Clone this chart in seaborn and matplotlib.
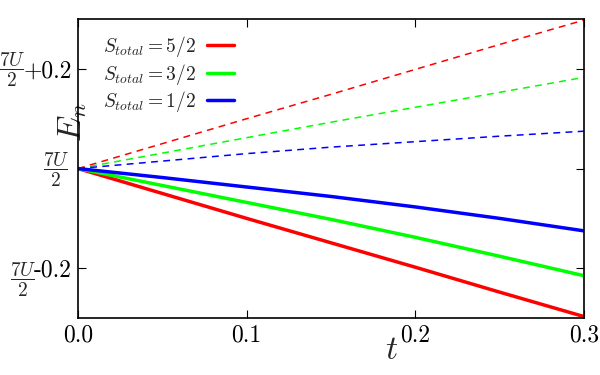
import pandas as pd
import matplotlib
matplotlib.use("Agg")
import matplotlib.pyplot as plt
import seaborn as sns

# hopping t and energy offset from 7U/2
t_vals = [0.0, 0.05, 0.10, 0.15, 0.20, 0.25, 0.30]
red_solid = [0.0, -0.050, -0.100, -0.149, -0.198, -0.248, -0.297]
green_solid = [0.0, -0.034, -0.068, -0.102, -0.138, -0.176, -0.215]
blue_solid = [0.0, -0.018, -0.037, -0.056, -0.077, -0.100, -0.125]
red_dashed = [0.0, 0.050, 0.100, 0.149, 0.199, 0.249, 0.298]
green_dashed = [0.0, 0.031, 0.062, 0.093, 0.123, 0.153, 0.183]
blue_dashed = [0.0, 0.015, 0.030, 0.043, 0.054, 0.065, 0.075]

labels = [r"$S_{total}=5/2$", r"$S_{total}=3/2$", r"$S_{total}=1/2$"]
colors = ["#ff0000", "#00ff00", "#0000ff"]
ytick_vals = [-0.2, 0.0, 0.2]
ytick_labels = ["-0.2", "", "+0.2"]
frac_label = r"$\dfrac{7U}{2}$"
xtick_vals = [0.0, 0.1, 0.2, 0.3]

# long tables for seaborn
solid = pd.DataFrame({
    "t": t_vals * 3,
    "E": red_solid + green_solid + blue_solid,
    "S": [labels[0]] * 7 + [labels[1]] * 7 + [labels[2]] * 7,
})
dashed = pd.DataFrame({
    "t": t_vals * 3,
    "E": red_dashed + green_dashed + blue_dashed,
    "S": [labels[0]] * 7 + [labels[1]] * 7 + [labels[2]] * 7,
})

sns.set_theme(style="ticks")
plt.rcParams["font.family"] = ["serif"]
plt.rcParams["font.serif"] = ["cmr10", "DejaVu Serif"]
plt.rcParams["mathtext.fontset"] = "cm"
plt.rcParams["axes.formatter.use_mathtext"] = True

fig = plt.figure(figsize=(6, 3.75), dpi=100)
ax = fig.add_axes([0.13, 0.152, 0.843, 0.797])

sns.lineplot(data=dashed, x="t", y="E", hue="S", palette=colors,
             linestyle="--", linewidth=1.1, legend=False, ax=ax)
sns.lineplot(data=solid, x="t", y="E", hue="S", palette=colors,
             linewidth=2.5, ax=ax)
for line in ax.lines[:3]:
    line.set_dashes([4.5, 3.5])

ax.set_xlim(0, 0.3)
ax.set_ylim(-0.3, 0.3)
ax.set_xticks(xtick_vals)
ax.set_xticklabels(["0.0", "0.1", "0.2", "0.3"])
ax.set_yticks(ytick_vals)
ax.set_yticklabels(ytick_labels)
ax.tick_params(direction="in", top=True, right=True, length=6, width=0.8,
               labelsize=17, pad=4.3, colors="black")
for sp in ax.spines.values():
    sp.set_linewidth(1.2)
    sp.set_color("black")

# the 7U/2 part of each y tick label, set beside the numeric part
frac_offsets = {0.2: (-37.5, -1.0), 0.0: (-5.8, -1.3), -0.2: (-30.0, -8.3)}
for yv, (dx, dy) in frac_offsets.items():
    ax.annotate(frac_label, xy=(0, yv), xycoords=("axes fraction", "data"),
                xytext=(dx, dy), textcoords="offset points",
                ha="right", va="center", fontsize=14, annotation_clip=False)

ax.set_xlabel(r"$t$", fontsize=24)
ax.xaxis.set_label_coords(0.62, -0.06)
ax.set_ylabel(r"$E_n$", fontsize=24)
ax.yaxis.set_label_coords(0.022, 0.655)

leg = ax.legend(loc="upper left", bbox_to_anchor=(0.014, 1.008), frameon=False,
                markerfirst=False, fontsize=14, handlelength=1.4,
                labelspacing=0.12, handletextpad=0.6)
for h in leg.get_lines():
    h.set_linewidth(2.5)

fig.savefig("out.png", dpi=100)
